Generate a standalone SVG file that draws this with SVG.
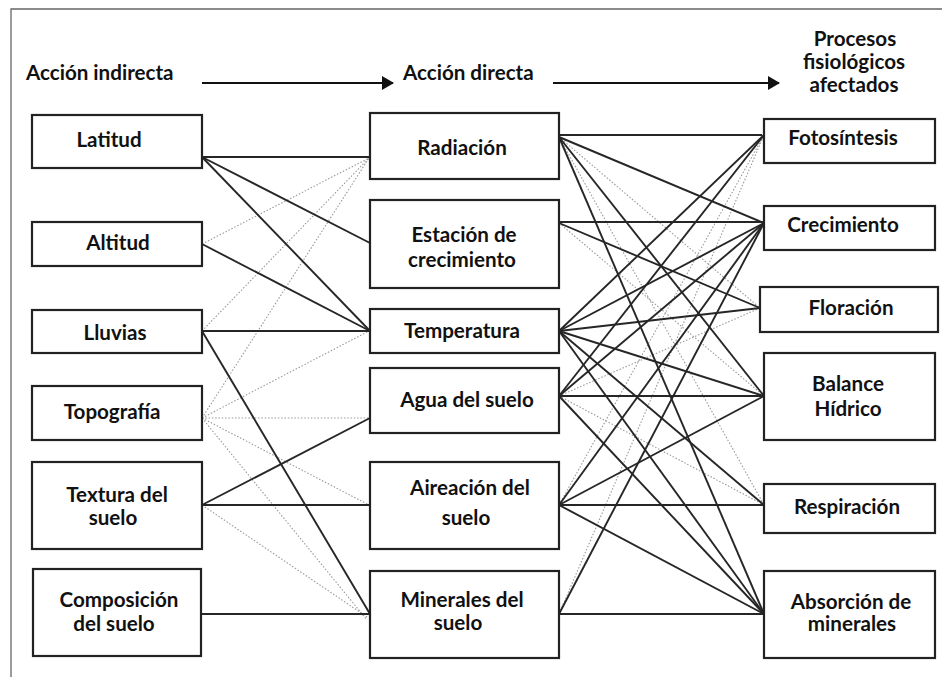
<svg xmlns="http://www.w3.org/2000/svg" width="942" height="677" viewBox="0 0 942 677">
<defs>
<style>
.box{fill:#fff;stroke:#222;stroke-width:2.2}
.t{font-family:Lato,"Open Sans",sans-serif;font-weight:bold;font-size:20.6px;fill:#111;text-anchor:middle}
.h{font-family:Lato,"Open Sans",sans-serif;font-weight:bold;font-size:20.6px;fill:#111}
.s{stroke:#262626;stroke-width:1.9;fill:none}
.d{stroke:#999;stroke-width:1.1;stroke-dasharray:1.5 1.8;fill:none}
</style>
<marker id="ah" viewBox="0 0 12 14" refX="11" refY="7" markerWidth="12" markerHeight="14" markerUnits="userSpaceOnUse" orient="auto">
<path d="M0,0 L12,7 L0,14 Z" fill="#111"/>
</marker>
</defs>
<rect width="942" height="677" fill="#fff"/>
<path d="M11,677 L11,9 L942,9" fill="none" stroke="#666" stroke-width="1.3"/>

<g id="headers">
<text class="h" x="26" y="80">Acción indirecta</text>
<text class="h" x="403" y="80">Acción directa</text>
<text class="t" x="855" y="46">Procesos</text>
<text class="t" x="854" y="69">fisiológicos</text>
<text class="t" x="854" y="92">afectados</text>
<line x1="202" y1="83" x2="393" y2="83" stroke="#111" stroke-width="2" marker-end="url(#ah)"/>
<line x1="553" y1="83" x2="779" y2="83" stroke="#111" stroke-width="2" marker-end="url(#ah)"/>
</g>

<g id="connectors">
<line class="d" x1="202" y1="244" x2="369" y2="158"/>
<line class="d" x1="202" y1="331" x2="369" y2="158"/>
<line class="d" x1="202" y1="418" x2="369" y2="158"/>
<line class="d" x1="202" y1="418" x2="369" y2="331"/>
<line class="d" x1="202" y1="418" x2="369" y2="418"/>
<line class="d" x1="202" y1="418" x2="369" y2="505"/>
<line class="d" x1="202" y1="418" x2="367" y2="620"/>
<line class="d" x1="202" y1="505" x2="367" y2="617"/>

<line class="s" x1="202" y1="157" x2="370" y2="157"/>
<line class="s" x1="202" y1="157" x2="370" y2="243"/>
<line class="s" x1="202" y1="157" x2="370" y2="331"/>
<line class="s" x1="202" y1="244" x2="370" y2="331"/>
<line class="s" x1="202" y1="331" x2="370" y2="331"/>
<line class="s" x1="202" y1="331" x2="370" y2="614"/>
<line class="s" x1="202" y1="505" x2="370" y2="418"/>
<line class="s" x1="202" y1="505" x2="370" y2="505"/>
<line class="s" x1="202" y1="614" x2="370" y2="614"/>

<line class="d" x1="559" y1="137" x2="760" y2="308"/>
<line class="d" x1="559" y1="137" x2="764" y2="505"/>
<line class="d" x1="559" y1="223" x2="764" y2="396"/>
<line class="d" x1="559" y1="396" x2="760" y2="308"/>
<line class="d" x1="559" y1="396" x2="764" y2="505"/>
<line class="d" x1="559" y1="505" x2="764" y2="135"/>
<line class="d" x1="559" y1="614" x2="764" y2="135"/>

<line class="s" x1="559" y1="135" x2="762" y2="135"/>
<line class="s" x1="559" y1="137" x2="764" y2="223"/>
<line class="s" x1="559" y1="137" x2="764" y2="396"/>
<line class="s" x1="559" y1="137" x2="764" y2="614"/>
<line class="s" x1="559" y1="222" x2="764" y2="222"/>
<line class="s" x1="559" y1="223" x2="760" y2="308"/>
<line class="s" x1="559" y1="331" x2="764" y2="135"/>
<line class="s" x1="559" y1="331" x2="764" y2="223"/>
<line class="s" x1="559" y1="331" x2="760" y2="308"/>
<line class="s" x1="559" y1="331" x2="764" y2="396"/>
<line class="s" x1="559" y1="331" x2="764" y2="505"/>
<line class="s" x1="559" y1="331" x2="764" y2="614"/>
<line class="s" x1="559" y1="396" x2="764" y2="135"/>
<line class="s" x1="559" y1="396" x2="764" y2="223"/>
<line class="s" x1="559" y1="396" x2="764" y2="396"/>
<line class="s" x1="559" y1="396" x2="764" y2="614"/>
<line class="s" x1="559" y1="505" x2="764" y2="223"/>
<line class="s" x1="559" y1="505" x2="764" y2="396"/>
<line class="s" x1="559" y1="505" x2="764" y2="505"/>
<line class="s" x1="559" y1="505" x2="764" y2="614"/>
<line class="s" x1="559" y1="614" x2="764" y2="223"/>
<line class="s" x1="559" y1="614" x2="764" y2="614"/>
</g>

<g id="latitud"><rect class="box" x="32" y="115" width="170" height="53"/><text class="t" x="109" y="147">Latitud</text></g>
<g id="altitud"><rect class="box" x="32" y="222" width="170" height="44"/><text class="t" x="118" y="250">Altitud</text></g>
<g id="lluvias"><rect class="box" x="32" y="310" width="170" height="43"/><text class="t" x="115" y="340">Lluvias</text></g>
<g id="topografia"><rect class="box" x="32" y="386" width="170" height="54"/><text class="t" x="112" y="419">Topografía</text></g>
<g id="textura"><rect class="box" x="32" y="462" width="170" height="87"/><text class="t" x="117" y="502">Textura del</text><text class="t" x="113" y="525">suelo</text></g>
<g id="composicion"><rect class="box" x="33" y="569" width="168" height="87"/><text class="t" x="119" y="607">Composición</text><text class="t" x="114" y="631">del suelo</text></g>

<g id="radiacion"><rect class="box" x="370" y="113" width="189" height="66"/><text class="t" x="462" y="155">Radiación</text></g>
<g id="estacion"><rect class="box" x="370" y="200" width="189" height="88"/><text class="t" x="464" y="242">Estación de</text><text class="t" x="462" y="267">crecimiento</text></g>
<g id="temperatura"><rect class="box" x="370" y="309" width="189" height="44"/><text class="t" x="462" y="338">Temperatura</text></g>
<g id="agua"><rect class="box" x="370" y="368" width="189" height="65"/><text class="t" x="467" y="407">Agua del suelo</text></g>
<g id="aireacion"><rect class="box" x="370" y="462" width="189" height="87"/><text class="t" x="470" y="495">Aireación del</text><text class="t" x="466" y="525">suelo</text></g>
<g id="minerales"><rect class="box" x="370" y="571" width="189" height="87"/><text class="t" x="462" y="607">Minerales del</text><text class="t" x="458" y="630">suelo</text></g>

<g id="fotosintesis"><rect class="box" x="764" y="119" width="171" height="44"/><text class="t" x="843" y="145">Fotosíntesis</text></g>
<g id="crecimiento"><rect class="box" x="764" y="206" width="171" height="44"/><text class="t" x="843" y="232">Crecimiento</text></g>
<g id="floracion"><rect class="box" x="760" y="287" width="178" height="45"/><text class="t" x="851" y="315">Floración</text></g>
<g id="balance"><rect class="box" x="764" y="353" width="171" height="87"/><text class="t" x="848" y="391">Balance</text><text class="t" x="848" y="416">Hídrico</text></g>
<g id="respiracion"><rect class="box" x="764" y="484" width="171" height="49"/><text class="t" x="847" y="514">Respiración</text></g>
<g id="absorcion"><rect class="box" x="764" y="571" width="171" height="87"/><text class="t" x="851" y="609">Absorción de</text><text class="t" x="852" y="631">minerales</text></g>
</svg>
